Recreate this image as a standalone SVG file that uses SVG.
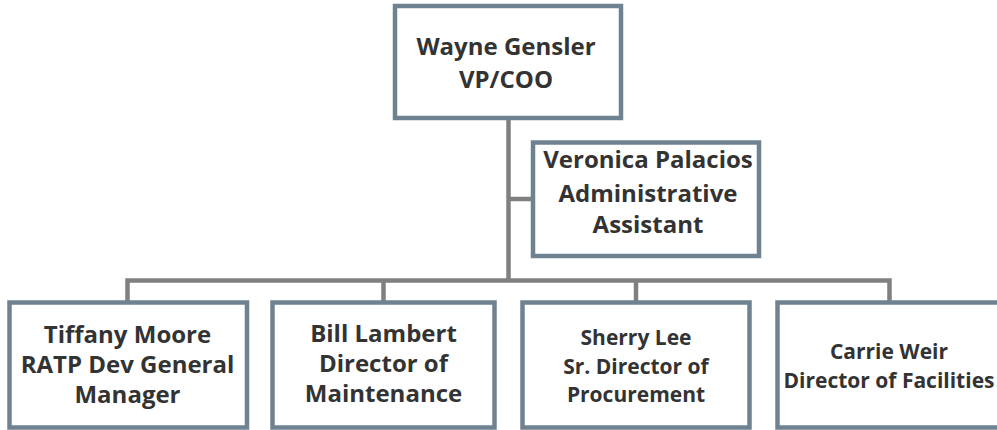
<svg xmlns="http://www.w3.org/2000/svg" width="997" height="430" viewBox="0 0 997 430">
<style>
.box{fill:#ffffff;stroke:#6f8291;stroke-width:4.5}
.ln{fill:none;stroke:#808080;stroke-width:4.5}
text{font-family:"Open Sans","DejaVu Sans",sans-serif;font-weight:700;fill:#333333;text-anchor:middle}
.big{font-size:24px}
.sm{font-size:21px}
</style>
<rect width="997" height="430" fill="#ffffff"/>
<g id="connectors">
<path class="ln" d="M508.5,118 V280.5"/>
<path class="ln" d="M508.5,199 H533"/>
<path class="ln" d="M127.5,302.5 V280.5 H889.5 V302.5"/>
<path class="ln" d="M383.5,280.5 V302.5"/>
<path class="ln" d="M636,280.5 V302.5"/>
</g>
<g id="wayne">
<rect class="box" x="395" y="6" width="226" height="112"/>
<text class="big" x="506" y="55">Wayne Gensler</text>
<text class="big" x="506" y="88">VP/COO</text>
</g>
<g id="veronica">
<rect class="box" x="533" y="142.5" width="226" height="113.5"/>
<text class="big" x="648" y="168">Veronica Palacios</text>
<text class="big" x="648" y="202">Administrative</text>
<text class="big" x="648" y="233">Assistant</text>
</g>
<g id="tiffany">
<rect class="box" x="9.5" y="302.5" width="237.5" height="125"/>
<text class="big" x="127.5" y="343">Tiffany Moore</text>
<text class="big" x="127.5" y="373">RATP Dev General</text>
<text class="big" x="127.5" y="403">Manager</text>
</g>
<g id="bill">
<rect class="box" x="272.5" y="302.5" width="222" height="125"/>
<text class="big" x="383.5" y="342">Bill Lambert</text>
<text class="big" x="383.5" y="372">Director of</text>
<text class="big" x="383.5" y="402">Maintenance</text>
</g>
<g id="sherry">
<rect class="box" x="522.5" y="302.5" width="227" height="125"/>
<text class="sm" x="636" y="345">Sherry Lee</text>
<text class="sm" x="636" y="374">Sr. Director of</text>
<text class="sm" x="636" y="402">Procurement</text>
</g>
<g id="carrie">
<rect class="box" x="777.5" y="302.5" width="224" height="125"/>
<text class="sm" x="889" y="359">Carrie Weir</text>
<text class="sm" x="889" y="388">Director of Facilities</text>
</g>
</svg>
